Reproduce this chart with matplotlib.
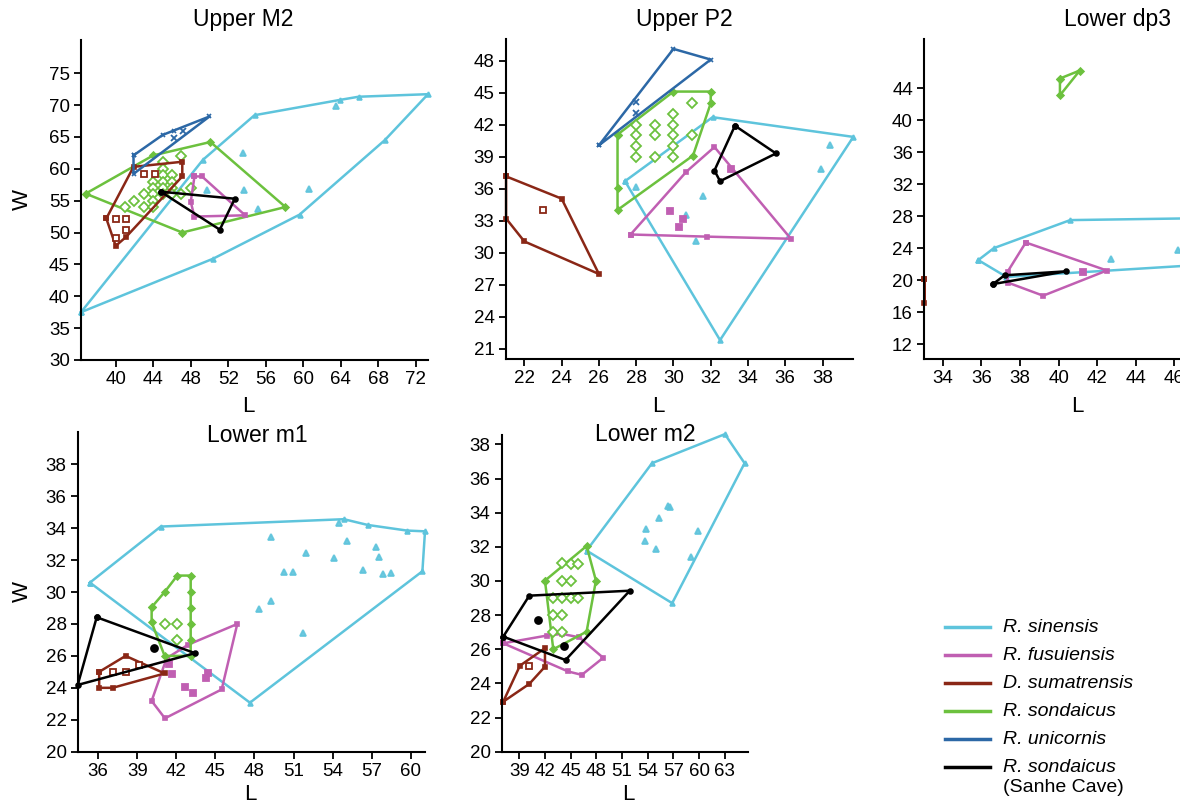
import matplotlib
matplotlib.use("Agg")
import matplotlib.pyplot as plt
from matplotlib.lines import Line2D

plt.rcParams["font.family"] = ["Liberation Sans", "DejaVu Sans"]

# ---- Upper M2 ----
M2_SIN_HULL = [(36.3, 37.5), (49.3, 61.4), (54.8, 68.4), (63.9, 70.8), (65.9, 71.3),
               (73.3, 71.7), (68.7, 64.5), (59.6, 52.8), (50.4, 45.9)]
M2_SIN_PTS = [(49.7, 56.6), (53.6, 62.4), (53.7, 56.7), (55.2, 53.7), (60.6, 56.9), (63.5, 69.9)]
M2_FUS_HULL = [(48.4, 58.8), (49.2, 58.8), (53.8, 52.7), (48.4, 52.5), (48.0, 54.8)]
M2_SUM_HULL = [(39.0, 52.2), (41.9, 60.3), (47.1, 61.1), (47.1, 58.8), (41.1, 49.3), (40.0, 47.9)]
M2_SUM_PTS = [(40.0, 52.1), (41.1, 52.1), (41.1, 50.4), (40.0, 49.2), (43.0, 59.2), (44.2, 59.2)]
M2_SON_HULL = [(36.8, 56.1), (44.0, 62.1), (50.1, 64.2), (58.1, 54.0), (47.1, 50.0)]
M2_SON_PTS = [(41, 54), (42, 55), (43, 56), (43, 54), (44, 58), (44, 57), (44, 56), (44, 55),
              (44, 54), (45, 61), (45, 60), (45, 59), (45, 58), (45, 57), (45, 56), (46, 59),
              (46, 58), (46, 57), (46, 56), (47, 62), (48, 57), (47, 56)]
M2_UNI_HULL = [(41.9, 62.1), (45.0, 65.3), (46.2, 66.0), (50.0, 68.2), (41.9, 59.2)]
M2_UNI_PTS = [(46.2, 64.9), (47.2, 66.0)]
M2_SAN_HULL = [(44.8, 56.4), (52.7, 55.3), (51.1, 50.45)]

# ---- Upper P2 ----
P2_SIN_HULL = [(27.4, 36.7), (32.1, 42.7), (39.65, 40.85), (32.5, 21.8)]
P2_SIN_PTS = [(28.0, 36.2), (31.6, 35.3), (30.7, 33.5), (31.2, 31.1), (38.4, 40.1), (37.9, 37.8)]
P2_FUS_HULL = [(27.7, 31.7), (30.7, 37.6), (32.2, 39.9), (36.3, 31.3), (31.8, 31.5)]
P2_FUS_PTS = [(29.8, 33.9), (30.5, 33.15), (30.3, 32.4), (33.1, 37.8)]
P2_SUM_HULL = [(21.02, 37.15), (24.0, 35.06), (26.0, 28.0), (22.0, 31.05), (21.02, 33.2)]
P2_SUM_PTS = [(23.0, 34.0)]
P2_SON_HULL = [(27.0, 41.07), (30.0, 45.1), (32.0, 45.1), (32.0, 44.0), (31.05, 39.1),
               (27.0, 34.0), (27.0, 36.06)]
P2_SON_PTS = [(28, 42), (28, 41), (28, 40), (28, 39), (29, 42), (29, 41), (29, 39), (30, 43),
              (30, 42), (30, 41), (30, 40), (30, 39), (31, 44), (31, 41)]
P2_UNI_HULL = [(26.0, 40.06), (30.0, 49.1), (32.0, 48.1)]
P2_UNI_PTS = [(28.0, 44.1), (28.0, 43.1)]
P2_SAN_HULL = [(33.3, 41.9), (35.5, 39.3), (32.5, 36.7), (32.2, 37.7)]

# ---- Lower dp3 ----
DP3_SIN_HULL = [(35.84, 22.5), (36.65, 24.0), (40.6, 27.5), (52.0, 27.9), (52.0, 22.6), (37.3, 20.4)]
DP3_SIN_PTS = [(42.7, 22.6), (46.2, 23.8)]
DP3_FUS_HULL = [(38.3, 24.7), (42.5, 21.2), (39.2, 18.05), (37.36, 19.7), (37.36, 21.05)]
DP3_FUS_PTS = [(41.27, 20.97)]
DP3_SUM_HULL = [(33.05, 20.2), (33.05, 17.1)]
DP3_SON_HULL = [(40.07, 45.2), (41.1, 46.2), (40.07, 43.1)]
DP3_SAN_HULL = [(36.6, 19.5), (37.2, 20.6), (40.4, 21.1)]

# ---- Lower m1 ----
M1_SIN_HULL = [(35.36, 30.59), (40.8, 34.1), (54.87, 34.56), (56.7, 34.2), (59.7, 33.85),
               (61.1, 33.8), (60.9, 31.3), (47.65, 23.07)]
M1_SIN_PTS = [(49.26, 33.43), (55.1, 33.2), (51.95, 32.43), (54.1, 32.1), (57.3, 32.85),
              (57.6, 32.2), (56.3, 31.4), (50.26, 31.28), (50.98, 31.28), (57.85, 31.13),
              (58.5, 31.2), (49.26, 29.46), (48.37, 28.94), (51.75, 27.42), (54.5, 34.3)]
M1_FUS_HULL = [(41.25, 25.85), (42.9, 26.7), (46.68, 28.0), (45.48, 23.9), (41.12, 22.09), (40.1, 23.18)]
M1_FUS_PTS = [(41.64, 24.87), (42.7, 24.03), (43.3, 23.7), (44.3, 24.6), (44.4, 24.9), (41.4, 25.5)]
M1_SUM_HULL = [(36.07, 25.0), (38.1, 26.0), (41.1, 24.9), (37.1, 24.0), (36.07, 24.0)]
M1_SUM_PTS = [(37.1, 25.0), (38.1, 25.0), (39.15, 25.4)]
M1_SON_HULL = [(40.1, 29.05), (41.1, 30.0), (42.07, 31.03), (43.1, 31.03), (43.1, 30.0), (43.1, 29.0),
               (43.1, 28.0), (43.1, 27.0), (43.1, 26.0), (41.1, 26.0), (40.1, 28.1)]
M1_SON_PTS = [(41.1, 28.0), (42.07, 28.0), (42.07, 27.0)]
M1_SAN_HULL = [(35.88, 28.42), (43.43, 26.17), (34.42, 24.18)]
M1_SAN_PTS = [(40.28, 26.48)]

# ---- Lower m2 ----
LM2_SIN_HULL = [(46.86, 31.78), (54.5, 36.9), (63.0, 38.6), (65.3, 36.9), (56.85, 28.7)]
LM2_SIN_PTS = [(53.8, 33.03), (53.67, 32.34), (55.3, 33.67), (56.4, 34.4), (56.6, 34.35),
               (54.95, 31.86), (59.9, 32.9), (59.1, 31.4)]
LM2_FUS_HULL = [(37.13, 26.35), (42.2, 26.8), (44.0, 26.9), (46.0, 26.7), (48.8, 25.5),
                (46.3, 24.5), (44.7, 24.7)]
LM2_SUM_HULL = [(37.13, 22.93), (39.08, 25.04), (42.0, 26.06), (42.0, 24.98), (40.17, 23.97)]
LM2_SUM_PTS = [(40.1, 25.0)]
LM2_SON_HULL = [(42.0, 30.02), (46.86, 32.05), (47.95, 30.02), (46.86, 27.03), (42.97, 26.0)]
LM2_SON_PTS = [(43.95, 31.04), (45.0, 31.0), (45.9, 31.0), (43.95, 30.0), (45.0, 30.0),
               (42.97, 29.0), (43.95, 29.0), (45.0, 29.0), (45.9, 29.0), (42.97, 28.0),
               (43.95, 28.0), (42.97, 27.0), (43.95, 27.0)]
LM2_SAN_HULL = [(37.13, 26.74), (40.17, 29.14), (51.9, 29.43), (44.4, 25.37)]
LM2_SAN_PTS = [(41.2, 27.7), (44.25, 26.2)]

SPECIES = ["sin", "fus", "sum", "son", "uni", "san"]
LABELS = ["R. sinensis", "R. fusuiensis", "D. sumatrensis", "R. sondaicus", "R. unicornis", "R. sondaicus"]
COLORS = {"sin": "#5ec4dc", "fus": "#c05fb2", "sum": "#8a2716", "son": "#6cc13e",
          "uni": "#2c68a6", "san": "#000000"}
MARKERS = {"sin": "^", "fus": "s", "sum": "s", "son": "D", "uni": "x", "san": "o"}

W, H = 1180, 810


def fx(px):
    return px / W


def fy(py):
    return 1 - py / H


def draw(ax, key, hull, pts=None):
    c, m = COLORS[key], MARKERS[key]
    xs = [p[0] for p in hull] + [hull[0][0]]
    ys = [p[1] for p in hull] + [hull[0][1]]
    ax.plot(xs, ys, color=c, lw=1.8, marker=m, ms=3.5, mew=1.2, clip_on=False)
    if pts:
        ax.plot([p[0] for p in pts], [p[1] for p in pts], ls="none", marker=m, ms=5,
                mfc="white" if key in ("son", "sum") else c, mec=c, mew=1.3,
                alpha=0.9 if key == "sin" else 1, clip_on=False)


def make_axes(left, right, top, bottom, xlim, ylim, xticks, yticks):
    ax = fig.add_axes([fx(left), fy(bottom), fx(right - left), (bottom - top) / H])
    ax.set_xlim(*xlim)
    ax.set_ylim(*ylim)
    ax.set_xticks(xticks)
    ax.set_yticks(yticks)
    for s in ("top", "right"):
        ax.spines[s].set_visible(False)
    for s in ("left", "bottom"):
        ax.spines[s].set_linewidth(1.5)
    ax.tick_params(direction="out", length=5, width=1.3, labelsize=13.5, pad=3)
    ax.patch.set_alpha(0)
    return ax


fig = plt.figure(figsize=(11.8, 8.1), dpi=100)

ax1 = make_axes(81, 428, 40, 360, (36.3, 73.3), (30, 80.2), range(40, 73, 4), range(30, 76, 5))
ax2 = make_axes(505.7, 853.3, 39.3, 359.3, (21.0, 39.65), (20, 50), range(22, 39, 2), range(21, 49, 3))
ax3 = make_axes(924, 1271, 39.3, 359.3, (33.03, 51.0), (10.1, 50.1), range(34, 51, 2), range(12, 45, 4))
ax4 = make_axes(77.7, 425, 431.7, 751.7, (34.42, 61.1), (20, 40.04), range(36, 61, 3), range(20, 39, 2))
ax5 = make_axes(501.7, 748, 435, 751.7, (36.95, 65.7), (20, 38.55), range(39, 64, 3), range(20, 39, 2))

panels = [
    (ax1, [("sin", M2_SIN_HULL, M2_SIN_PTS), ("son", M2_SON_HULL, M2_SON_PTS),
           ("sum", M2_SUM_HULL, M2_SUM_PTS), ("fus", M2_FUS_HULL, None),
           ("uni", M2_UNI_HULL, M2_UNI_PTS), ("san", M2_SAN_HULL, None)]),
    (ax2, [("sin", P2_SIN_HULL, P2_SIN_PTS), ("fus", P2_FUS_HULL, P2_FUS_PTS),
           ("sum", P2_SUM_HULL, P2_SUM_PTS), ("son", P2_SON_HULL, P2_SON_PTS),
           ("uni", P2_UNI_HULL, P2_UNI_PTS), ("san", P2_SAN_HULL, None)]),
    (ax3, [("sin", DP3_SIN_HULL, DP3_SIN_PTS), ("fus", DP3_FUS_HULL, DP3_FUS_PTS),
           ("sum", DP3_SUM_HULL, None), ("son", DP3_SON_HULL, None),
           ("san", DP3_SAN_HULL, None)]),
    (ax4, [("sin", M1_SIN_HULL, M1_SIN_PTS), ("fus", M1_FUS_HULL, M1_FUS_PTS),
           ("sum", M1_SUM_HULL, M1_SUM_PTS), ("son", M1_SON_HULL, M1_SON_PTS),
           ("san", M1_SAN_HULL, M1_SAN_PTS)]),
    (ax5, [("sin", LM2_SIN_HULL, LM2_SIN_PTS), ("fus", LM2_FUS_HULL, None),
           ("sum", LM2_SUM_HULL, LM2_SUM_PTS), ("son", LM2_SON_HULL, LM2_SON_PTS),
           ("san", LM2_SAN_HULL, LM2_SAN_PTS)]),
]
for ax, groups in panels:
    for key, hull, pts in groups:
        draw(ax, key, hull, pts)

# titles and axis labels
for txt, x, y in [("Upper M2", 243, 26), ("Upper P2", 684, 26), ("Lower dp3", 1118, 26),
                  ("Lower m1", 257, 441.5), ("Lower m2", 645, 441)]:
    fig.text(fx(x), fy(y), txt, ha="center", va="baseline", fontsize=16.5)
for x, y in [(248, 407), (658, 407), (1077, 407), (250, 795), (628, 795)]:
    fig.text(fx(x), fy(y), "L", ha="center", va="center", fontsize=16)
for y in (199, 592):
    fig.text(fx(22), fy(y), "W", ha="center", va="center", rotation=90, fontsize=16)

# legend
ROW0, STEP = 627, 28
for i, key in enumerate(SPECIES):
    y = ROW0 + i * STEP
    fig.add_artist(Line2D([fx(945), fx(990)], [fy(y), fy(y)], color=COLORS[key], lw=2.5))
    fig.text(fx(1003), fy(y), LABELS[i], ha="left", va="center", fontsize=14, style="italic")
fig.text(fx(1003), fy(ROW0 + 5 * STEP + 21), "(Sanhe Cave)", ha="left", va="center", fontsize=14)

fig.savefig("out.png", dpi=100)
